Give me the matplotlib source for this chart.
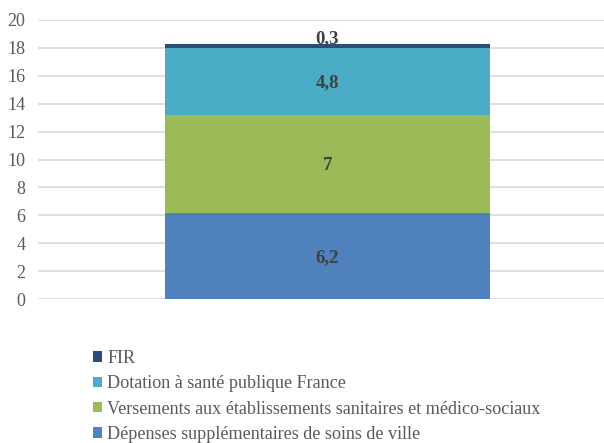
import matplotlib
matplotlib.use("Agg")
import matplotlib.pyplot as plt
from matplotlib.patches import Patch

plt.rcParams['font.family'] = ['Liberation Serif', 'DejaVu Serif']

# Stacked segments, bottom to top
categories = ['Dépenses supplémentaires de soins de ville',
              'Versements aux établissements sanitaires et médico-sociaux',
              'Dotation à santé publique France',
              'FIR']
values = [6.2, 7, 4.8, 0.3]
value_labels = ['6,2', '7', '4,8', '0,3']
colors = ['#4F81BD', '#9BBB59', '#4BACC6', '#2C4D75']
y_ticks = [0, 2, 4, 6, 8, 10, 12, 14, 16, 18, 20]

fig = plt.figure(figsize=(6.04, 4.43), dpi=100)
ax = fig.add_axes([38 / 604, 1 - 299 / 443, (604 - 38) / 604, (299 - 20) / 443])

bottom = 0
for i, (cat, val, lab, col) in enumerate(zip(categories, values, value_labels, colors)):
    ax.bar(0, val, width=1.0, bottom=bottom, color=col, label=cat, zorder=3)
    if i == len(values) - 1:
        # thin top segment: label sits on top of the stack
        ax.text(0, bottom + val, lab, ha='center', va='baseline',
                fontsize=13.5, fontweight='bold', color='#404040', zorder=4)
    else:
        ax.text(0, bottom + val / 2 - 0.12, lab, ha='center', va='center',
                fontsize=13.5, fontweight='bold', color='#404040', zorder=4)
    bottom += val

ax.set_xlim(-0.891, 0.851)
ax.set_ylim(0, 20)
ax.set_yticks(y_ticks)
ax.set_xticks([])
ax.tick_params(axis='y', length=0, pad=9, labelsize=13, labelcolor='#595959')
for s in ax.spines.values():
    s.set_visible(False)
ax.yaxis.grid(True, color='#D9D9D9', linewidth=1.2, zorder=0)

handles = [Patch(facecolor=c, label=l) for c, l in zip(colors, categories)][::-1]
fig.legend(handles=handles, loc='upper left', bbox_to_anchor=(93 / 604, 1 - 350 / 443),
           frameon=False, fontsize=13.1, labelcolor='#595959',
           handlelength=0.5, handleheight=0.5, handletextpad=0.28,
           labelspacing=0.46, borderaxespad=0, borderpad=0)

fig.savefig('out.png', dpi=100)
